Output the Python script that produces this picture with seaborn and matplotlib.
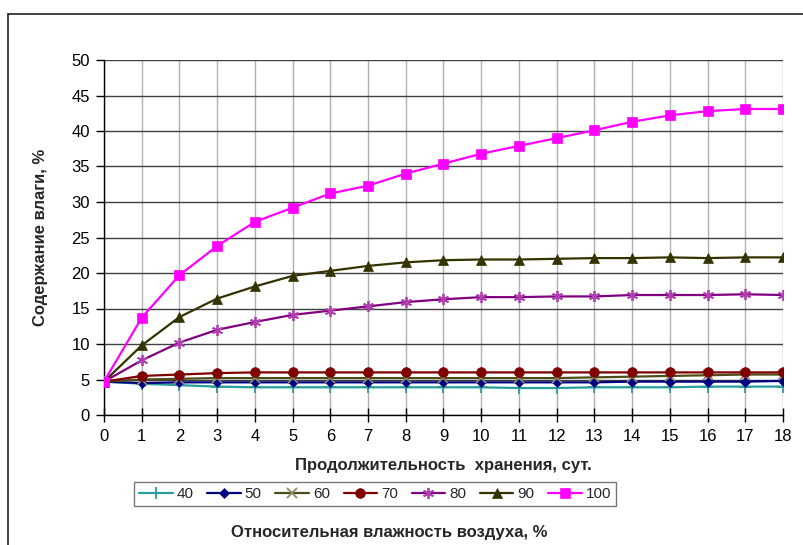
import matplotlib
matplotlib.use("Agg")
import matplotlib.pyplot as plt
import seaborn as sns
import pandas as pd
from matplotlib.lines import Line2D

days = list(range(19))
h40 = [4.7, 4.4, 4.2, 4.0, 3.9, 3.9, 3.9, 3.9, 3.9, 3.9, 3.9, 3.8, 3.8, 3.9, 3.9, 3.9, 4.0, 4.0, 4.0]
h50 = [4.7, 4.5, 4.6, 4.6, 4.6, 4.6, 4.6, 4.6, 4.6, 4.6, 4.6, 4.6, 4.6, 4.6, 4.7, 4.7, 4.7, 4.7, 4.8]
h60 = [4.7, 5.0, 5.1, 5.2, 5.2, 5.2, 5.2, 5.2, 5.2, 5.2, 5.2, 5.2, 5.2, 5.3, 5.4, 5.5, 5.6, 5.7, 5.7]
h70 = [4.7, 5.5, 5.7, 5.9, 6.0, 6.0, 6.0, 6.0, 6.0, 6.0, 6.0, 6.0, 6.0, 6.0, 6.0, 6.0, 6.0, 6.0, 6.0]
h80 = [4.7, 7.7, 10.2, 12.0, 13.1, 14.1, 14.7, 15.3, 15.9, 16.3, 16.6, 16.6, 16.7, 16.7, 16.9, 16.9, 16.9, 17.0, 16.9]
h90 = [4.7, 9.8, 13.8, 16.4, 18.1, 19.6, 20.3, 21.0, 21.5, 21.8, 21.9, 21.9, 22.0, 22.1, 22.1, 22.2, 22.1, 22.2, 22.2]
h100 = [4.7, 13.7, 19.7, 23.8, 27.2, 29.2, 31.2, 32.3, 34.0, 35.4, 36.8, 37.9, 39.0, 40.1, 41.3, 42.2, 42.8, 43.1, 43.1]

labels = ["40", "50", "60", "70", "80", "90", "100"]
series = [h40, h50, h60, h70, h80, h90, h100]
colors = ["#2a9d9d", "#000080", "#4d4d1a", "#800000", "#800080", "#333300", "#ff00ff"]
marker_colors = ["#2a9d9d", "#000080", "#8a8a6a", "#800000", "#b040b0", "#333300", "#ff00ff"]
markers = ["+", "D", "x", "o", (6, 2, 0), "^", "s"]
msizes = [8, 5, 7, 7, 8, 7, 7]
mews = [1.3, 0.5, 1.3, 0.5, 1.3, 0.5, 0.5]

rows = []
for lab, vals in zip(labels, series):
    for d, v in zip(days, vals):
        rows.append({"day": d, "value": v, "h": lab})
df = pd.DataFrame(rows)

sns.set_theme(style="white")
plt.rcParams["font.family"] = ["Liberation Sans", "DejaVu Sans"]

fig = plt.figure(figsize=(8.04, 5.45), dpi=100)
ax = fig.add_axes([104/804, 1-415/545, 679/804, 355/545])

handles = []
for lab, col, mc, mk, ms, mew in zip(labels, colors, marker_colors, markers, msizes, mews):
    sub = df[df["h"] == lab]
    sns.lineplot(data=sub, x="day", y="value", ax=ax, color=col, lw=1.6,
                 marker=mk, markersize=ms, markerfacecolor=mc, markeredgecolor=mc,
                 markeredgewidth=mew, legend=False, zorder=3)
    handles.append(Line2D([], [], color=col, lw=1.6, marker=mk, markersize=ms,
                          markerfacecolor=mc, markeredgecolor=mc, markeredgewidth=mew))

ax.set_xlim(0, 18)
ax.set_ylim(0, 50)
ax.set_xticks(range(0, 19))
ax.set_yticks(range(0, 51, 5))
ax.grid(True, axis="x", color="#b0b0b0", lw=1.0)
ax.grid(True, axis="y", color="#404040", lw=1.0)
ax.set_axisbelow(True)
for s in ["top", "right"]:
    ax.spines[s].set_visible(False)
for s in ["left", "bottom"]:
    ax.spines[s].set_color("black")
    ax.spines[s].set_linewidth(1.0)
ax.tick_params(axis="x", direction="inout", length=10, width=1, colors="black",
               labelsize=12, bottom=True, pad=5)
ax.tick_params(axis="y", direction="out", length=6, width=1, colors="black",
               labelsize=12, left=True, pad=4)
ax.set_xlabel("Продолжительность  хранения, сут.", fontsize=12, fontweight="bold", labelpad=10)
ax.set_ylabel("Содержание влаги, %", fontsize=12, fontweight="bold", labelpad=17)

leg = fig.legend(handles, labels, loc="center", bbox_to_anchor=(375/804, 1-494/545),
                 ncol=7, fontsize=11, frameon=True, fancybox=False, edgecolor="#555555",
                 handlelength=2.2, handletextpad=0.25, columnspacing=0.9, borderpad=0.3)
leg.get_frame().set_linewidth(1.0)

fig.text(389/804, 1-533/545, "Относительная влажность воздуха, %", ha="center", va="center",
         fontsize=12, fontweight="bold")

fig.add_artist(Line2D([8/804, 8/804], [0, 1-14/545], transform=fig.transFigure, color="#222222", lw=1.2))
fig.add_artist(Line2D([8/804, 1], [1-14/545, 1-14/545], transform=fig.transFigure, color="#222222", lw=1.2))

fig.savefig("out.png", dpi=100, facecolor="white")
